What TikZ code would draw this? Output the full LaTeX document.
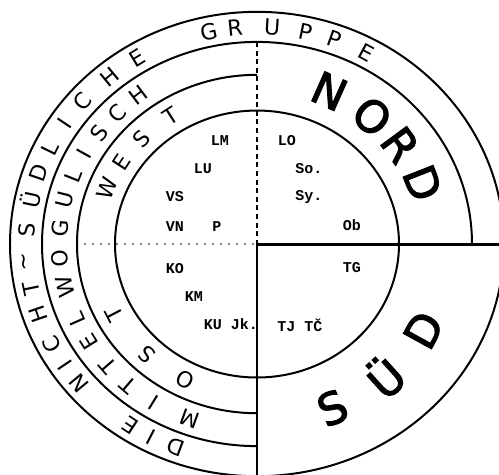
\documentclass[tikz,border=0pt]{standalone}
\usepackage{fontspec}
\setmainfont{DejaVu Sans}
\newfontfamily\typefont{Liberation Mono}
\newfontfamily\bigfont[FakeBold=2.5]{DejaVu Sans}
\usetikzlibrary{calc}
\tikzset{
  ring/.style={line width=1pt},
  split/.style={line width=1.5pt},
  dashline/.style={line width=0.7pt,dash pattern=on 2.5pt off 1.8pt},
  dotline/.style={line width=0.9pt,line cap=round,dash pattern=on 0pt off 4pt},
  thinline/.style={line width=0.6pt},
  lab/.style={font=\typefont\bfseries\fontsize{7.5}{8}\selectfont,inner sep=0pt},
  glyph/.style={font=\fontsize{11}{12}\selectfont,inner sep=0pt},
  bigglyph/.style={font=\bigfont\fontsize{22}{24}\selectfont,inner sep=0pt},
}
\begin{document}
\begin{tikzpicture}[x=0.5pt,y=0.47pt]
\useasboundingbox (-257,-244.7) rectangle (242,259.6);
\coordinate (c) at (0,0);
\coordinate (top4) at (90:215);
\coordinate (west3) at (180:180);
\coordinate (east5) at (0:247);
\coordinate (bot) at (0,-250);

\draw[ring] (c) circle (142);
\draw[ring] (c) circle (247);
\draw[ring] (90:180) arc[start angle=90,end angle=270,radius=180];
\draw[ring] (0:215) arc[start angle=0,end angle=270,radius=215];

\draw[dashline] (top4) -- (c);
\draw[thinline] (c) -- (bot);
\draw[dotline] (west3) -- (c);
\draw[split] (c) -- (east5);

% outer ring
\foreach \a/\ch [count=\i] in {249.5/D,242.8/I,236.7/E,219.8/N,213.9/I,207.5/C,199/H,191.7/T,184.7/\textasciitilde,176.3/S,168.3/Ü,161/D,153.8/L,146.2/I,138.9/C,129.6/H,121.3/E,102/G,95.5/R,86.2/U,77.9/P,70.4/P,61.7/E}
  \node[glyph,rotate=\a-90] (grp\i) at (\a:231) {\ch};

\foreach \a/\ch [count=\i] in {250/M,238.4/I,229.3/T,221.1/T,211.9/E,203.9/L,193.2/W,184.6/O,175/G,166.2/U,158.4/L,150.9/I,143.2/S,135.2/C,126.9/H}
  \node[glyph,rotate=\a-90] (mid\i) at (\a:197.5) {\ch};

\foreach \a/\ch [count=\i] in {158.3/W,147.1/E,135.9/S,122.5/T}
  \node[glyph,rotate=\a-90] (west\i) at (\a:161) {\ch};
\foreach \a/\ch [count=\i] in {243.5/O,227/S,207.5/T}
  \node[glyph,rotate=\a-90] (ost\i) at (\a:161) {\ch};

\foreach \a/\ch [count=\i] in {66/N,49.7/O,36.4/R,21.4/D}
  \node[bigglyph,rotate=\a-90] (nord\i) at (\a:178) {\ch};
\foreach \a/\ch [count=\i] in {293.4/S,312.1/Ü,331.2/D}
  \node[bigglyph,rotate=\a+90] (sued\i) at (\a:190) {\ch};

% dialects
\node[lab] (lm) at (-37,110.6) {LM};
\node[lab] (lu) at (-54,79.8) {LU};
\node[lab] (vs) at (-82,50) {VS};
\node[lab] (vn) at (-82,19.1) {VN};
\node[lab] (p) at (-40,19.1) {P};
\node[lab] (lo) at (30,110.6) {LO};
\node[lab] (so) at (52,79.8) {So.};
\node[lab] (sy) at (52,50) {Sy.};
\node[lab] (ob) at (95,20.2) {Ob};
\node[lab] (ko) at (-82,-26.6) {KO};
\node[lab] (km) at (-63,-56.4) {KM};
\node[lab] (kujk) at (-26,-85.1) {KU Jk.};
\node[lab] (tg) at (95,-25.5) {TG};
\node[lab] (tjtc) at (43,-86.2) {TJ TČ};
\end{tikzpicture}
\end{document}
